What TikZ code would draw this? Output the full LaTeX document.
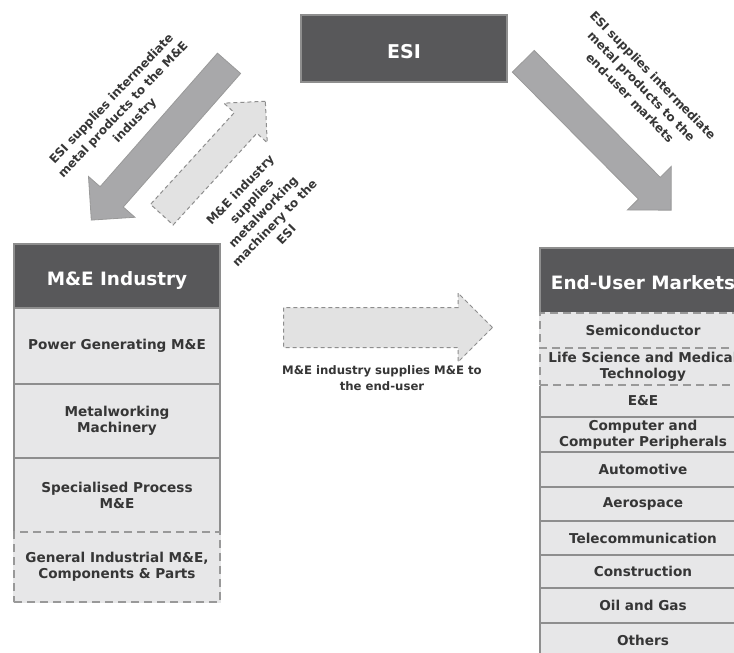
\documentclass[tikz,border=0pt]{standalone}
\usepackage{fontspec}
\setmainfont{DejaVu Sans}
\usetikzlibrary{positioning, shapes.arrows, backgrounds}
\definecolor{grisOscuro}{HTML}{58585A}
\definecolor{grisBorde}{HTML}{8E8E8E}
\definecolor{grisFila}{HTML}{E7E7E8}
\definecolor{grisFlecha}{HTML}{A8A8AA}
\definecolor{grisClaro}{HTML}{E2E2E2}
\definecolor{grisTexto}{HTML}{363636}
\tikzset{
  cajaBase/.style={
    draw=grisBorde, line width=1.2pt, minimum width=206pt,
    inner sep=0pt, outer sep=0pt, align=center, text=grisTexto,
    font=\bfseries\fontsize{13.6}{16}\selectfont
  },
  cajaCabecera/.style={cajaBase, fill=grisOscuro, text=white,
    text height=22pt, text depth=4pt,
    font=\bfseries\fontsize{18.4}{22}\selectfont},
  cajaFila/.style={cajaBase, fill=grisFila},
  cajaPunteada/.style={cajaFila, draw=grisBorde!90, line width=2pt,
    dash pattern=on 8pt off 5pt, preaction={draw=grisFila, solid}},
  flechaOscura/.style={single arrow, draw=grisBorde!90, fill=grisFlecha,
    line width=0.8pt, inner xsep=0pt, inner ysep=15pt,
    single arrow head extend=15.5pt, anchor=tail},
  flechaClara/.style={single arrow, draw=grisBorde, fill=grisClaro,
    line width=1pt, dash pattern=on 4pt off 3pt, inner xsep=0pt,
    inner ysep=14.8pt, single arrow head extend=14pt, anchor=tail},
  etiqueta/.style={align=center, text=grisTexto, inner sep=0pt,
    font=\bfseries\fontsize{12}{16}\selectfont},
}

\begin{document}
\begin{tikzpicture}[x=1pt, y=-1pt]
  \clip (0,0) rectangle (734,653);
  \begin{scope}[on background layer]
    \fill[white] (0,0) rectangle (734,653);
  \end{scope}

  % ESI
  \node[cajaCabecera, minimum height=67pt, text height=20pt, text depth=0pt,
    font=\bfseries\fontsize{19}{22}\selectfont] (esi) at (404,48.5) {ESI};

  % M&E industry
  \node[cajaCabecera, minimum height=64pt, anchor=north] (hdrME) at (117,244) {M\&E Industry};
  \node[cajaFila, minimum height=76pt, below=0pt of hdrME] (power) {Power Generating M\&E};
  \node[cajaFila, minimum height=74pt, below=0pt of power] (metal) {Metalworking\\Machinery};
  \node[cajaFila, minimum height=74pt, below=0pt of metal] (proc) {Specialised Process\\M\&E};
  \node[cajaPunteada, minimum height=70pt, below=0pt of proc] (gral) {General Industrial M\&E,\\Components \& Parts};

  % end-user markets
  \node[cajaCabecera, minimum height=65pt, anchor=north] (hdrEU) at (643,248) {End-User Markets};
  \node[cajaPunteada, minimum height=35pt, below=0pt of hdrEU] (semi) {Semiconductor};
  \node[cajaPunteada, minimum height=37pt, below=0pt of semi] (life) {Life Science and Medical\\Technology};
  \begin{scope}[on background layer]
    \node[cajaFila, minimum height=32pt, below=0pt of life] (ee) {E\&E};
    \node[cajaFila, minimum height=35pt, below=0pt of ee] (comp) {Computer and\\Computer Peripherals};
    \node[cajaFila, minimum height=35pt, below=0pt of comp] (auto) {Automotive};
    \node[cajaFila, minimum height=34pt, below=0pt of auto] (aero) {Aerospace};
    \node[cajaFila, minimum height=34pt, below=0pt of aero] (tele) {Telecommunication};
    \node[cajaFila, minimum height=33pt, below=0pt of tele] (cons) {Construction};
    \node[cajaFila, minimum height=35pt, below=0pt of cons] (oil) {Oil and Gas};
    \node[cajaFila, minimum height=35pt, below=0pt of oil] (others) {Others};
  \end{scope}

  % flujos
  \node[flechaOscura, minimum height=208.7pt, rotate=228.7]
    (flechaME) at (229.3,63) {};
  \node[flechaClara, minimum height=153.5pt, rotate=47.6]
    (flechaESI) at (161.5,215) {};
  \node[flechaOscura, minimum height=209.8pt, rotate=-45.2]
    (flechaEU) at (523,61) {};
  \node[flechaClara, minimum height=209pt, inner ysep=19.5pt, single arrow head extend=14.5pt]
    (flechaMEEU) at (283,327.5) {};

  \node[etiqueta, rotate=46.6] (lblME) at (123.5,110)
    {ESI supplies intermediate\\metal products to the M\&E\\industry};
  \node[etiqueta, rotate=46] (lblESI) at (263,212)
    {M\&E industry\\supplies\\metalworking\\machinery to the\\ESI};
  \node[etiqueta, rotate=-45.7] (lblEU) at (641.5,86.5)
    {ESI supplies intermediate\\metal products to the\\end-user markets};
  \node[etiqueta, font=\bfseries\fontsize{11.7}{15.5}\selectfont] (lblMEEU) at (382,378)
    {M\&E industry supplies M\&E to\\the end-user};
\end{tikzpicture}
\end{document}
